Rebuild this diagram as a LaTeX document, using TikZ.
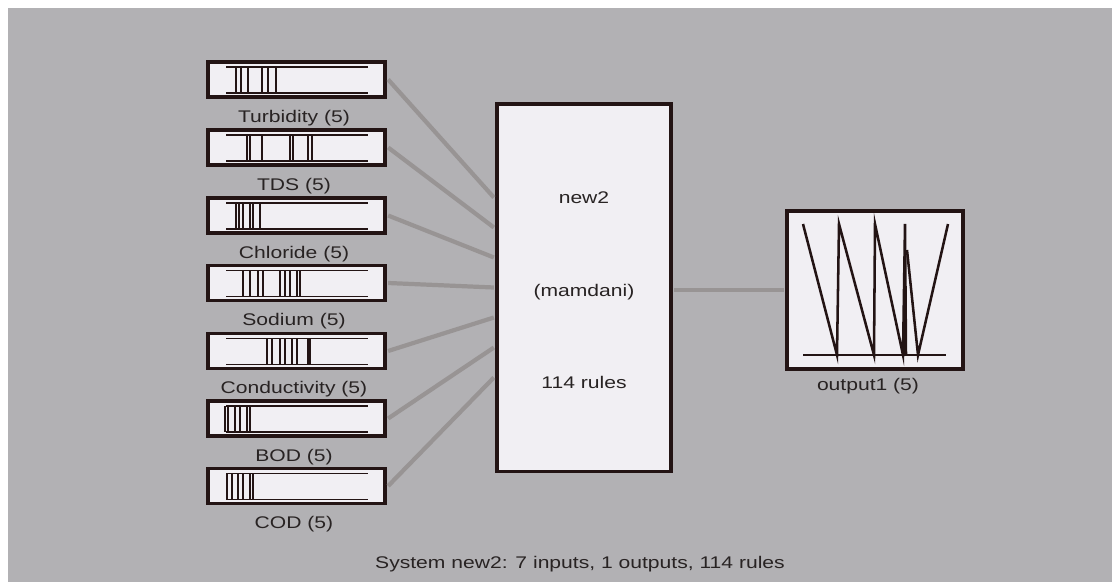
\documentclass[tikz,border=0pt]{standalone}
\usepackage{fontspec}
\setmainfont[FakeStretch=1.25]{Liberation Sans}
\usetikzlibrary{positioning}

\definecolor{panelgray}{RGB}{178,177,180}
\definecolor{boxfill}{RGB}{241,239,243}
\definecolor{framecol}{RGB}{35,20,20}
\definecolor{wirecol}{RGB}{152,148,148}
\definecolor{txtcol}{RGB}{40,35,35}

\tikzset{
  inbox/.style={draw=framecol, fill=boxfill, line width=2.2pt, minimum width=4.425cm, minimum height=0.875cm, inner sep=0pt},
  sysbox/.style={draw=framecol, fill=boxfill, line width=2.2pt, minimum width=4.35cm, minimum height=9.175cm, inner sep=0pt},
  outbox/.style={draw=framecol, fill=boxfill, line width=2.2pt, minimum width=4.4cm, minimum height=3.95cm, inner sep=0pt},
  wire/.style={draw=wirecol, line width=3pt},
  mfline/.style={draw=framecol, line width=1.8pt},
  baseline/.style={draw=framecol, line width=1pt},
  lbl/.style={text=txtcol, inner sep=0pt}
}

\begin{document}
\begin{tikzpicture}[x=0.025cm, y=-0.025cm, every node/.style={font=\fontsize{12}{14}\selectfont}]

    % background panel
    \fill[white] (0,0) rectangle (1119,586);
    \fill[panelgray] (8,8) rectangle (1112,582);

    % rule block
    \node[sysbox] (sys) at (584,287.5) {};
    \node[lbl] (sysname) at (584,198) {new2};
    \node[lbl] (systype) at (584,292) {(mamdani)};
    \node[lbl] (sysrules) at (584,382) {114 rules};

    % inputs
    \foreach \nm/\yy/\txt/\mfs in {
        turb/79.5/Turbidity/{28,33,40,54,60,68},
        tds/147.5/TDS/{39,42,54,82,85,100,104},
        chlor/215.5/Chloride/{28,31,35,42,45,52},
        sod/283/Sodium/{35,42,50,55,72,77,82,89,92},
        cond/351/Conductivity/{59,64,72,77,84,89,100,102},
        bod/418.5/BOD/{17,20,27,32,39,42},
        cod/486/COD/{19,24,30,35,42,45}} {
        \node[inbox] (\nm) at (296.5,\yy) {};
        \draw[baseline] (226,\yy-12.5) -- (368,\yy-12.5);
        \draw[baseline] (226,\yy+13.5) -- (368,\yy+13.5);
        \foreach \m in \mfs
            \draw[mfline] (208+\m,\yy-12.5) -- (208+\m,\yy+13.5);
        \node[lbl] (\nm lbl) at (294,\yy+38.5) {\txt\ (5)};
    }

    % input wires
    \foreach \nm [count=\i] in {turb,tds,chlor,sod,cond,bod,cod}
        \draw[wire] ([xshift=1.1pt]\nm.east) -- ([yshift={(4-\i)*0.75cm}, xshift=-1.1pt]sys.west);

    % output
    \node[outbox] (out) at (875,290) {};
    \draw[wire] ([xshift=1.1pt]sys.east |- out.west) -- ([xshift=-1.1pt]out.west);
    \draw[baseline] (803,355) -- (946,355);
    \draw[mfline] (803,224) -- (837,355) -- (839,224) -- (874,355) -- (875,224)
                  -- (903,355) -- (905,224) -- (906,355);
    \draw[mfline] (907,250) -- (918,355) -- (948,224);
    \node[lbl] (outlbl) at (868,386.5) {output1 (5)};

    % caption
    \node[lbl] (caption) at (580,564) {System new2: 7 inputs, 1 outputs, 114 rules};

\end{tikzpicture}
\end{document}
